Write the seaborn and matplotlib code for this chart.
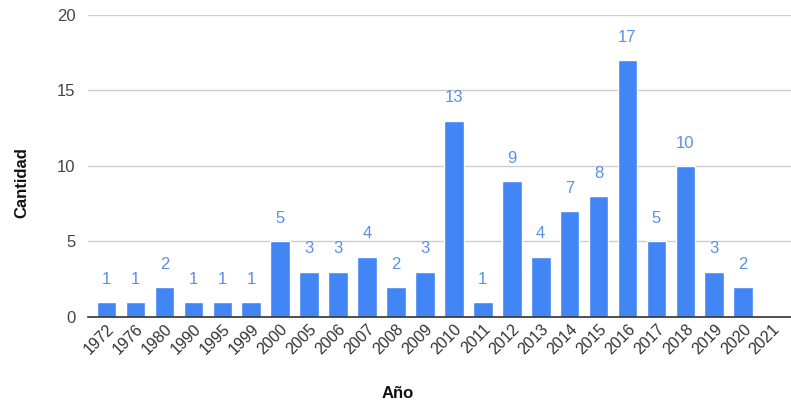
import matplotlib
matplotlib.use("Agg")
import matplotlib.pyplot as plt
import seaborn as sns
import pandas as pd

years = ["1972", "1976", "1980", "1990", "1995", "1999", "2000", "2005", "2006",
         "2007", "2008", "2009", "2010", "2011", "2012", "2013", "2014", "2015",
         "2016", "2017", "2018", "2019", "2020", "2021"]
counts = [1, 1, 2, 1, 1, 1, 5, 3, 3, 4, 2, 3, 13, 1, 9, 4, 7, 8, 17, 5, 10, 3, 2, 0]
y_ticks = [0, 5, 10, 15, 20]

df = pd.DataFrame({"Año": years, "Cantidad": counts})

sns.set_theme(style="white")
plt.rcParams["font.family"] = ["Liberation Sans", "DejaVu Sans"]

fig = plt.figure(figsize=(7.91, 4.03), dpi=100)
ax = fig.add_axes([0.111, 0.2134, 0.889, 0.7494])

bar_color = "#4285F4"
sns.barplot(data=df, x="Año", y="Cantidad", color=bar_color, width=0.68,
            saturation=1, ax=ax, zorder=3)

labels = [str(v) if v > 0 else "" for v in counts]
ax.bar_label(ax.containers[0], labels=labels, padding=11, color="#5B8FE8",
             fontsize=12)

ax.set_ylim(0, 20)
ax.set_yticks(y_ticks)
ax.set_xlim(-0.65, len(years) - 0.35)
ax.yaxis.grid(True, color="#CCCCCC", linewidth=1, zorder=0)
ax.set_axisbelow(True)

for side in ["top", "right", "left"]:
    ax.spines[side].set_visible(False)
ax.spines["bottom"].set_color("#333333")
ax.spines["bottom"].set_linewidth(1.2)
ax.spines["bottom"].set_zorder(4)

ax.tick_params(axis="y", length=0, labelsize=12, labelcolor="#444444", pad=9)
ax.tick_params(axis="x", length=0, labelsize=11.5, labelcolor="#333333", pad=3)
for lbl in ax.get_xticklabels():
    lbl.set_rotation(45)
    lbl.set_ha("right")
    lbl.set_rotation_mode("anchor")

ax.set_xlabel("Año", fontsize=12, fontweight="bold", color="#111111")
ax.set_ylabel("Cantidad", fontsize=12, fontweight="bold", color="#111111")
ax.xaxis.set_label_coords(0.44, -0.228)
ax.yaxis.set_label_coords(-0.083, 0.444)

fig.savefig("out.png", dpi=100)
